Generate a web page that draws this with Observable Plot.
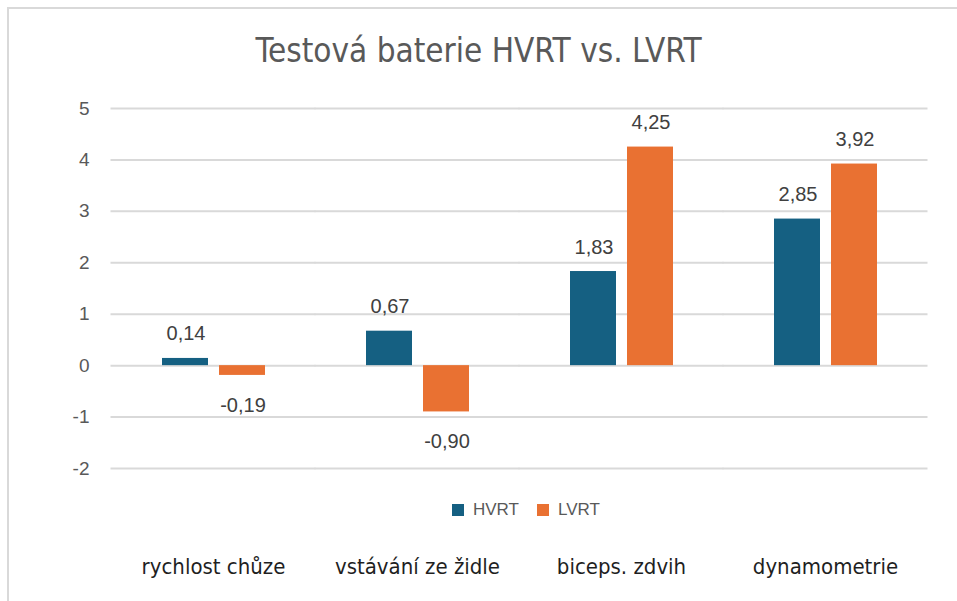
<!DOCTYPE html>
<html><head><meta charset="utf-8">
<script src="https://cdn.jsdelivr.net/npm/d3@7"></script>
<script src="https://cdn.jsdelivr.net/npm/@observablehq/plot@0.6"></script>
<style>
body{margin:0;background:#fff;width:957px;height:601px;overflow:hidden;position:relative;font-family:"Liberation Sans",Arial,sans-serif}
#frame{position:absolute;left:7px;top:7px;width:960px;height:600px;border-top:2px solid #d9d9d9;border-left:2px solid #d9d9d9;pointer-events:none}
#title{position:absolute;left:0;top:0;width:957px;height:85px;text-align:center;color:#595959;font-family:"Liberation Sans Narrow","DejaVu Sans Condensed","Roboto",sans-serif;font-size:33px;line-height:33px;padding-top:0}
#title span{display:inline-block;margin-top:34px}
#chart{position:absolute;left:0;top:85px}
#legend{position:absolute;left:452px;top:500px;display:flex;align-items:center;font-size:17px;color:#595959}
#legend .sw{width:12px;height:12px;display:inline-block;margin-right:9px}
#legend .it{display:flex;align-items:center;margin-right:18px}
</style></head>
<body>
<div id="title"><span>Testová baterie HVRT vs. LVRT</span></div>
<div id="chart"></div>
<div id="legend"></div>
<div id="frame"></div>
<script>
const categories = ["rychlost chůze", "vstávání ze židle", "biceps. zdvih", "dynamometrie"];
const series = ["HVRT", "LVRT"];
const hvrt = [0.14, 0.67, 1.83, 2.85];
const lvrt = [-0.19, -0.90, 4.25, 3.92];
const yTicks = [-2, -1, 0, 1, 2, 3, 4, 5];
const colors = ["#156082", "#E97132"];

const rows = [];
categories.forEach((c, i) => {
  rows.push({cat: c, series: "HVRT", value: hvrt[i]});
  rows.push({cat: c, series: "LVRT", value: lvrt[i]});
});
const fmt = v => v.toFixed(2).replace(".", ",");

const plot = Plot.plot({
  width: 957,
  height: 516,
  marginTop: 23,
  marginBottom: 133,
  marginLeft: 109,
  marginRight: 29,
  style: {fontFamily: '"Liberation Sans", Arial, sans-serif', background: "transparent"},
  fx: {domain: categories, paddingInner: 0.492, paddingOuter: 0.246, axis: null},
  x: {domain: series, paddingInner: 0.2, paddingOuter: 0, axis: null},
  y: {domain: [-2, 5], ticks: yTicks, axis: null},
  color: {domain: series, range: colors},
  marks: [
    Plot.ruleY(yTicks, {stroke: "#d9d9d9", strokeWidth: 2, insetLeft: -50.5, insetRight: -50.5}),
    Plot.axisY(yTicks, {tickSize: 0, tickPadding: 72, fontSize: 19, fill: "#595959", tickFormat: d => String(d), label: null}),
    Plot.barY(rows, {fx: "cat", x: "series", y: "value", fill: "series"}),
    Plot.text(rows.filter(d => d.value >= 0), {fx: "cat", x: "series", y: "value", text: d => fmt(d.value), lineAnchor: "bottom", dy: -18, dx: 0.5, fontSize: 20, fill: "#404040", style: "letter-spacing:1px"}),
    Plot.text(rows.filter(d => d.value < 0), {fx: "cat", x: "series", y: "value", text: d => fmt(d.value), lineAnchor: "top", dy: 22, dx: 0.5, fontSize: 20, fill: "#404040", style: "letter-spacing:1px"}),
    Plot.axisFx({anchor: "bottom", tickSize: 0, tickPadding: 90, fontSize: 22, fill: "#1f1f1f", fontFamily: '"Liberation Sans Narrow","DejaVu Sans Condensed",Roboto,sans-serif', label: null})
  ]
});
document.getElementById("chart").appendChild(plot);

const lg = document.getElementById("legend");
series.forEach((s, i) => {
  const it = document.createElement("span");
  it.className = "it";
  const sw = document.createElement("span");
  sw.className = "sw";
  sw.style.background = colors[i];
  it.appendChild(sw);
  it.appendChild(document.createTextNode(s));
  lg.appendChild(it);
});
</script>
</body></html>
